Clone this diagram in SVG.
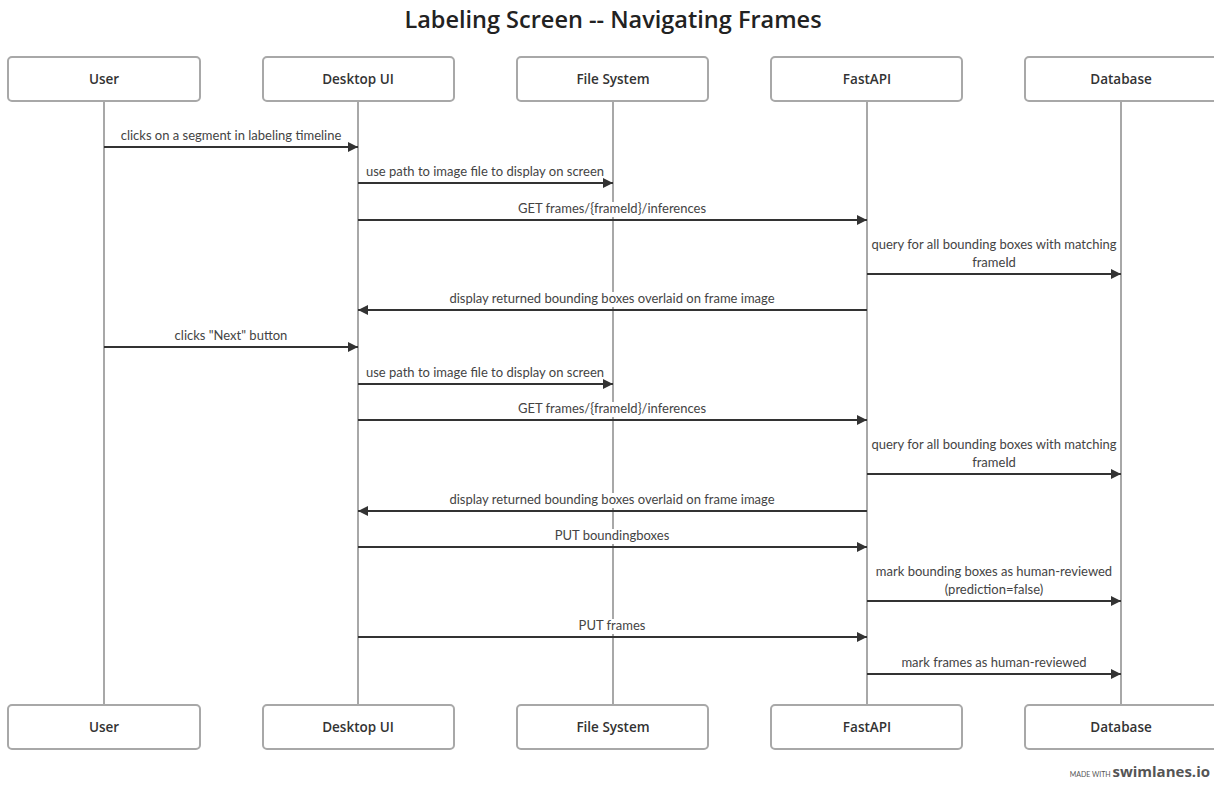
<svg xmlns="http://www.w3.org/2000/svg" width="1214" height="787" viewBox="0 0 1214 787">
  <style>
    .title { font-family: "Open Sans", "Noto Sans", sans-serif; font-weight: 600; font-size: 23.5px; fill: #222; }
    .actor rect { fill: #fff; stroke: #a8a8a8; stroke-width: 2; }
    .actor text { font-family: "Open Sans", "Noto Sans", sans-serif; font-weight: 600; font-size: 13.5px; fill: #333; text-anchor: middle; }
    .life { stroke: #a8a8a8; stroke-width: 2; }
    .msg line { stroke: #333; stroke-width: 2; }
    .lbl { font-family: "Lato", "Noto Sans", sans-serif; font-size: 13px; fill: #444; text-anchor: middle; }
    .bg { fill: #fff; }
    .credit-small { font-family: "Lato", sans-serif; font-size: 7px; fill: #555; }
    .credit { font-family: "Open Sans", sans-serif; font-weight: 700; font-size: 15px; fill: #555; }
  </style>
  <defs>
    <marker id="arr" viewBox="0 0 10 10" refX="10" refY="5" markerWidth="5" markerHeight="5" orient="auto-start-reverse" markerUnits="strokeWidth">
      <path d="M0,0 L10,5 L0,10 z" fill="#333"/>
    </marker>
  </defs>
  <rect width="1214" height="787" fill="#fff"/>

  <text class="title" x="613" y="28" text-anchor="middle">Labeling Screen -- Navigating Frames</text>

  <!-- lifelines -->
  <g id="lifelines">
    <line class="life" x1="104" y1="101" x2="104" y2="705"/>
    <line class="life" x1="358" y1="101" x2="358" y2="705"/>
    <line class="life" x1="613" y1="101" x2="613" y2="705"/>
    <line class="life" x1="867" y1="101" x2="867" y2="705"/>
    <line class="life" x1="1121" y1="101" x2="1121" y2="705"/>
  </g>

  <!-- actors (top and bottom) -->
  <g id="user" class="actor">
    <rect x="8" y="57" width="192" height="44" rx="4"/>
    <text x="104" y="84">User</text>
    <rect x="8" y="705" width="192" height="44" rx="4"/>
    <text x="104" y="732">User</text>
  </g>
  <g id="desktop-ui" class="actor">
    <rect x="263" y="57" width="191" height="44" rx="4"/>
    <text x="358" y="84">Desktop UI</text>
    <rect x="263" y="705" width="191" height="44" rx="4"/>
    <text x="358" y="732">Desktop UI</text>
  </g>
  <g id="file-system" class="actor">
    <rect x="517" y="57" width="191" height="44" rx="4"/>
    <text x="613" y="84">File System</text>
    <rect x="517" y="705" width="191" height="44" rx="4"/>
    <text x="613" y="732">File System</text>
  </g>
  <g id="fastapi" class="actor">
    <rect x="771" y="57" width="191" height="44" rx="4"/>
    <text x="867" y="84">FastAPI</text>
    <rect x="771" y="705" width="191" height="44" rx="4"/>
    <text x="867" y="732">FastAPI</text>
  </g>
  <g id="database" class="actor">
    <rect x="1025" y="57" width="192" height="44" rx="4"/>
    <text x="1121" y="84">Database</text>
    <rect x="1025" y="705" width="192" height="44" rx="4"/>
    <text x="1121" y="732">Database</text>
  </g>

  <!-- messages -->
  <g id="connectors" class="msg">
    <line x1="104" y1="147" x2="358" y2="147" marker-end="url(#arr)"/>
    <text class="lbl" x="231" y="140">clicks on a segment in labeling timeline</text>

    <line x1="358" y1="183" x2="613" y2="183" marker-end="url(#arr)"/>
    <text class="lbl" x="485" y="176">use path to image file to display on screen</text>

    <line x1="358" y1="220" x2="867" y2="220" marker-end="url(#arr)"/>
    <rect class="bg" x="518" y="202" width="190" height="15"/>
    <text class="lbl" x="612" y="213">GET frames/{frameId}/inferences</text>

    <line x1="867" y1="274" x2="1121" y2="274" marker-end="url(#arr)"/>
    <text class="lbl" x="994" y="249">query for all bounding boxes with matching</text>
    <text class="lbl" x="994" y="267">frameId</text>

    <line x1="867" y1="310" x2="358" y2="310" marker-end="url(#arr)"/>
    <rect class="bg" x="446" y="292" width="334" height="15"/>
    <text class="lbl" x="612" y="303">display returned bounding boxes overlaid on frame image</text>

    <line x1="104" y1="347" x2="358" y2="347" marker-end="url(#arr)"/>
    <text class="lbl" x="231" y="340">clicks "Next" button</text>

    <line x1="358" y1="384" x2="613" y2="384" marker-end="url(#arr)"/>
    <text class="lbl" x="485" y="377">use path to image file to display on screen</text>

    <line x1="358" y1="420" x2="867" y2="420" marker-end="url(#arr)"/>
    <rect class="bg" x="518" y="402" width="190" height="15"/>
    <text class="lbl" x="612" y="413">GET frames/{frameId}/inferences</text>

    <line x1="867" y1="474" x2="1121" y2="474" marker-end="url(#arr)"/>
    <text class="lbl" x="994" y="449">query for all bounding boxes with matching</text>
    <text class="lbl" x="994" y="467">frameId</text>

    <line x1="867" y1="511" x2="358" y2="511" marker-end="url(#arr)"/>
    <rect class="bg" x="446" y="493" width="334" height="15"/>
    <text class="lbl" x="612" y="504">display returned bounding boxes overlaid on frame image</text>

    <line x1="358" y1="547" x2="867" y2="547" marker-end="url(#arr)"/>
    <rect class="bg" x="550" y="529" width="126" height="15"/>
    <text class="lbl" x="612" y="540">PUT boundingboxes</text>

    <line x1="867" y1="601" x2="1121" y2="601" marker-end="url(#arr)"/>
    <text class="lbl" x="994" y="576">mark bounding boxes as human-reviewed</text>
    <text class="lbl" x="994" y="594">(prediction=false)</text>

    <line x1="358" y1="637" x2="867" y2="637" marker-end="url(#arr)"/>
    <rect class="bg" x="574" y="619" width="78" height="15"/>
    <text class="lbl" x="612" y="630">PUT frames</text>

    <line x1="867" y1="674" x2="1121" y2="674" marker-end="url(#arr)"/>
    <text class="lbl" x="994" y="667">mark frames as human-reviewed</text>
  </g>

  <text x="1210" y="777" text-anchor="end"><tspan class="credit-small">MADE WITH </tspan><tspan class="credit">swimlanes.io</tspan></text>
</svg>
